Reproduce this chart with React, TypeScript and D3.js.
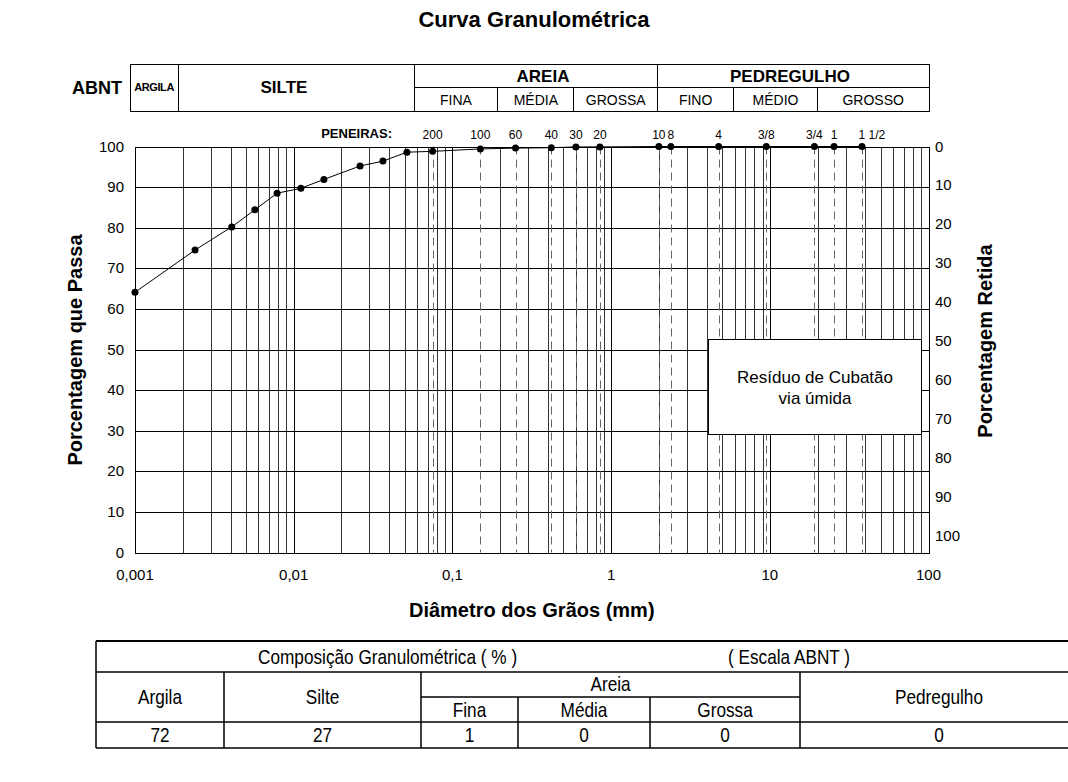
import React from "react";
import * as d3 from "d3";

// ---- data ----
const hydroDiameters = [0.001, 0.00239, 0.00407, 0.00569, 0.00786, 0.0111, 0.0155, 0.0262, 0.0365, 0.0517];
const hydroPassing = [64.1, 74.5, 80.2, 84.4, 88.5, 89.7, 91.9, 95.2, 96.4, 98.6];
const sieveLabels = ["200", "100", "60", "40", "30", "20", "10", "8", "4", "3/8", "3/4", "1", "1 1/2"];
const sieveSizes = [0.075, 0.15, 0.25, 0.42, 0.6, 0.85, 2.0, 2.38, 4.76, 9.5, 19.1, 25.4, 38.1];
const sievePassing = [98.8, 99.4, 99.6, 99.7, 99.9, 99.9, 100, 100, 100, 100, 100, 100, 100];
const xTickValues = [0.001, 0.01, 0.1, 1, 10, 100];
const xTickLabels = ["0,001", "0,01", "0,1", "1", "10", "100"];
const yTicks = [0, 10, 20, 30, 40, 50, 60, 70, 80, 90, 100];
const abntLimits = [0.002, 0.06, 0.2, 0.6, 2, 6, 20];
const sandSub = ["FINA", "MÉDIA", "GROSSA"];
const gravelSub = ["FINO", "MÉDIO", "GROSSO"];
const legendLines = ["Resíduo de Cubatão", "via úmida"];
const compHeaders = ["Argila", "Silte", "Fina", "Média", "Grossa", "Pedregulho"];
const compValues = [72, 27, 1, 0, 0, 0];

const FONT = "'Liberation Sans', Arial, sans-serif";

function NarrowText(props: { x: number; y: number; anchor?: string; children: React.ReactNode }) {
  return (
    <text
      transform={`translate(${props.x},${props.y}) scale(0.82,1)`}
      textAnchor={props.anchor || "middle"}
      fontSize={21}
    >
      {props.children}
    </text>
  );
}

export default function App() {
  const x = d3.scaleLog().domain([0.001, 100]).range([135, 928.5]);
  const y = d3.scaleLinear().domain([0, 100]).range([552.5, 146.5]);
  const yR = d3.scaleLinear().domain([0, 100]).range([146.5, 536]);
  const hx = d3.scaleLog().domain([0.001, 100]).range([130, 929]);

  const gridX: number[] = [];
  for (let e = -3; e < 2; e++) {
    for (let m = 1; m <= 9; m++) {
      if (!(e === -3 && m === 1)) gridX.push(m * Math.pow(10, e));
    }
  }

  const pts = [
    ...hydroDiameters.map((d, i) => ({ d, p: hydroPassing[i] })),
    ...sieveSizes.map((d, i) => ({ d, p: sievePassing[i] })),
  ];
  const line = d3
    .line<{ d: number; p: number }>()
    .x((q) => x(q.d))
    .y((q) => y(q.p));

  const px = (v: number) => Math.round(v) + 0.5;

  // header
  const hTop = 64, hMid = 87.5, hBot = 111;
  const hb = abntLimits.map((d) => hx(d));
  const hL = hx(0.001), hR = hx(100);

  // bottom table
  const tL = 96, tR = 1075;
  const colEdges = [96, 224, 421, 518, 650, 800, 1078];
  const rY = [641, 672, 697, 722, 748];
  const mid = (a: number, b: number) => (a + b) / 2;

  return (
    <div style={{ position: "fixed", left: 0, top: 0, width: 1068, height: 782, background: "#fff" }}>
      <svg width={1068} height={782} style={{ display: "block", fontFamily: FONT }}>
        <rect x={0} y={0} width={1068} height={782} fill="#fff" />
        {/* title */}
        <text x={534} y={27} textAnchor="middle" fontSize={22} fontWeight="bold">
          Curva Granulométrica
        </text>

        {/* ABNT header */}
        <text x={97} y={94} textAnchor="middle" fontSize={18} fontWeight="bold">ABNT</text>
        <g stroke="#000" strokeWidth={1} fill="none" shapeRendering="crispEdges">
          <rect x={hL} y={hTop} width={hR - hL} height={hBot - hTop} />
          <line x1={hb[0]} x2={hb[0]} y1={hTop} y2={hBot} />
          <line x1={hb[1]} x2={hb[1]} y1={hTop} y2={hBot} />
          <line x1={hb[4]} x2={hb[4]} y1={hTop} y2={hBot} />
          <line x1={hb[1]} x2={hR} y1={hMid} y2={hMid} />
          {[hb[2], hb[3], hb[5], hb[6]].map((v, i) => (
            <line key={i} x1={v} x2={v} y1={hMid} y2={hBot} />
          ))}
        </g>
        <text x={(hL + hb[0]) / 2} y={91} textAnchor="middle" fontSize={11} fontWeight="bold" letterSpacing={-0.4}>ARGILA</text>
        <text x={284} y={93} textAnchor="middle" fontSize={17} fontWeight="bold">SILTE</text>
        <text x={543} y={82} textAnchor="middle" fontSize={17} fontWeight="bold">AREIA</text>
        <text x={790} y={82} textAnchor="middle" fontSize={17} fontWeight="bold">PEDREGULHO</text>
        {sandSub.map((s, i) => (
          <text key={s} x={(hb[1 + i] + hb[2 + i]) / 2} y={105} textAnchor="middle" fontSize={14}>{s}</text>
        ))}
        {gravelSub.map((s, i) => {
          const a = hb[4 + i];
          const b = i === 2 ? hR : hb[5 + i];
          return (
            <text key={s} x={(a + b) / 2} y={105} textAnchor="middle" fontSize={14}>{s}</text>
          );
        })}

        {/* grid */}
        <g stroke="#000" strokeWidth={1} shapeRendering="crispEdges">
          {gridX.map((d, i) => (
            <line key={i} x1={px(x(d))} x2={px(x(d))} y1={y(100)} y2={y(0)} stroke={i % 9 === 8 ? "#000" : "#333"} />
          ))}
          {yTicks.map((t) => (
            <line key={t} x1={x(0.001)} x2={x(100)} y1={px(y(t))} y2={px(y(t))} />
          ))}
        </g>
        {/* sieve dashed lines */}
        <g stroke="#666" strokeWidth={1} strokeDasharray="8,5">
          {sieveSizes.map((d, i) => (
            <line key={i} x1={px(x(d))} x2={px(x(d))} y1={y(100)} y2={y(0)} />
          ))}
        </g>
        <rect x={px(x(0.001))} y={px(y(100))} width={Math.round(x(100)) - Math.round(x(0.001))} height={Math.round(y(0)) - Math.round(y(100))} fill="none" stroke="#000" strokeWidth={1} shapeRendering="crispEdges" />

        {/* sieve labels */}
        <text x={392} y={138} textAnchor="end" fontSize={13} fontWeight="bold">PENEIRAS:</text>
        {sieveSizes.map((d, i) => (
          <text
            key={i}
            x={sieveLabels[i] === "1 1/2" ? x(d) - 3.5 : x(d)}
            y={139}
            textAnchor={sieveLabels[i] === "1 1/2" ? "start" : "middle"}
            fontSize={12}
          >
            {sieveLabels[i]}
          </text>
        ))}

        {/* curve */}
        <path d={line(pts) || ""} fill="none" stroke="#000" strokeWidth={1} />
        {pts.map((q, i) => (
          <circle key={i} cx={x(q.d)} cy={y(q.p)} r={3.5} fill="#000" />
        ))}

        {/* axes labels */}
        {yTicks.map((t) => (
          <text key={"l" + t} x={124} y={y(t) + 5} textAnchor="end" fontSize={15}>{t}</text>
        ))}
        {yTicks.map((t) => (
          <text key={"r" + t} x={935} y={yR(t) + 5} textAnchor="start" fontSize={15}>{t}</text>
        ))}
        {xTickValues.map((d, i) => (
          <text key={i} x={x(d)} y={580} textAnchor="middle" fontSize={15}>{xTickLabels[i]}</text>
        ))}
        <text x={(x(0.001) + x(100)) / 2} y={617} textAnchor="middle" fontSize={20} fontWeight="bold">
          Diâmetro dos Grãos (mm)
        </text>
        <text transform="translate(82,350) rotate(-90)" textAnchor="middle" fontSize={20} fontWeight="bold">
          Porcentagem que Passa
        </text>
        <text transform="translate(992,341) rotate(-90)" textAnchor="middle" fontSize={20} fontWeight="bold">
          Porcentagem Retida
        </text>

        {/* legend box */}
        <rect x={708.5} y={339.5} width={213} height={95} fill="#fff" stroke="#000" strokeWidth={1} />
        {legendLines.map((s, i) => (
          <text key={i} x={815} y={383 + i * 21} textAnchor="middle" fontSize={17}>{s}</text>
        ))}

        {/* bottom table */}
        <g stroke="#000" strokeWidth={1.5} fill="none">
          <line x1={tL} x2={tR} y1={rY[0]} y2={rY[0]} strokeWidth={2} />
          <line x1={tL} x2={tR} y1={rY[1]} y2={rY[1]} />
          <line x1={colEdges[2]} x2={colEdges[5]} y1={rY[2]} y2={rY[2]} />
          <line x1={tL} x2={tR} y1={rY[3]} y2={rY[3]} />
          <line x1={tL} x2={tR} y1={rY[4]} y2={rY[4]} />
          <line x1={tL} x2={tL} y1={rY[0]} y2={rY[4]} />
          <line x1={colEdges[1]} x2={colEdges[1]} y1={rY[1]} y2={rY[4]} />
          <line x1={colEdges[2]} x2={colEdges[2]} y1={rY[1]} y2={rY[4]} />
          <line x1={colEdges[3]} x2={colEdges[3]} y1={rY[2]} y2={rY[4]} />
          <line x1={colEdges[4]} x2={colEdges[4]} y1={rY[2]} y2={rY[4]} />
          <line x1={colEdges[5]} x2={colEdges[5]} y1={rY[1]} y2={rY[4]} />
        </g>
        <NarrowText x={258} y={664} anchor="start">Composição Granulométrica ( % )</NarrowText>
        <NarrowText x={728} y={664} anchor="start">( Escala ABNT )</NarrowText>
        <NarrowText x={mid(colEdges[0], colEdges[1])} y={704}>{compHeaders[0]}</NarrowText>
        <NarrowText x={mid(colEdges[1], colEdges[2])} y={704}>{compHeaders[1]}</NarrowText>
        <NarrowText x={mid(colEdges[2], colEdges[5])} y={691}>Areia</NarrowText>
        <NarrowText x={mid(colEdges[2], colEdges[3])} y={717}>{compHeaders[2]}</NarrowText>
        <NarrowText x={mid(colEdges[3], colEdges[4])} y={717}>{compHeaders[3]}</NarrowText>
        <NarrowText x={mid(colEdges[4], colEdges[5])} y={717}>{compHeaders[4]}</NarrowText>
        <NarrowText x={mid(colEdges[5], colEdges[6])} y={704}>{compHeaders[5]}</NarrowText>
        {compValues.map((v, i) => (
          <NarrowText key={i} x={mid(colEdges[i], colEdges[i + 1])} y={742}>{v}</NarrowText>
        ))}
      </svg>
    </div>
  );
}
